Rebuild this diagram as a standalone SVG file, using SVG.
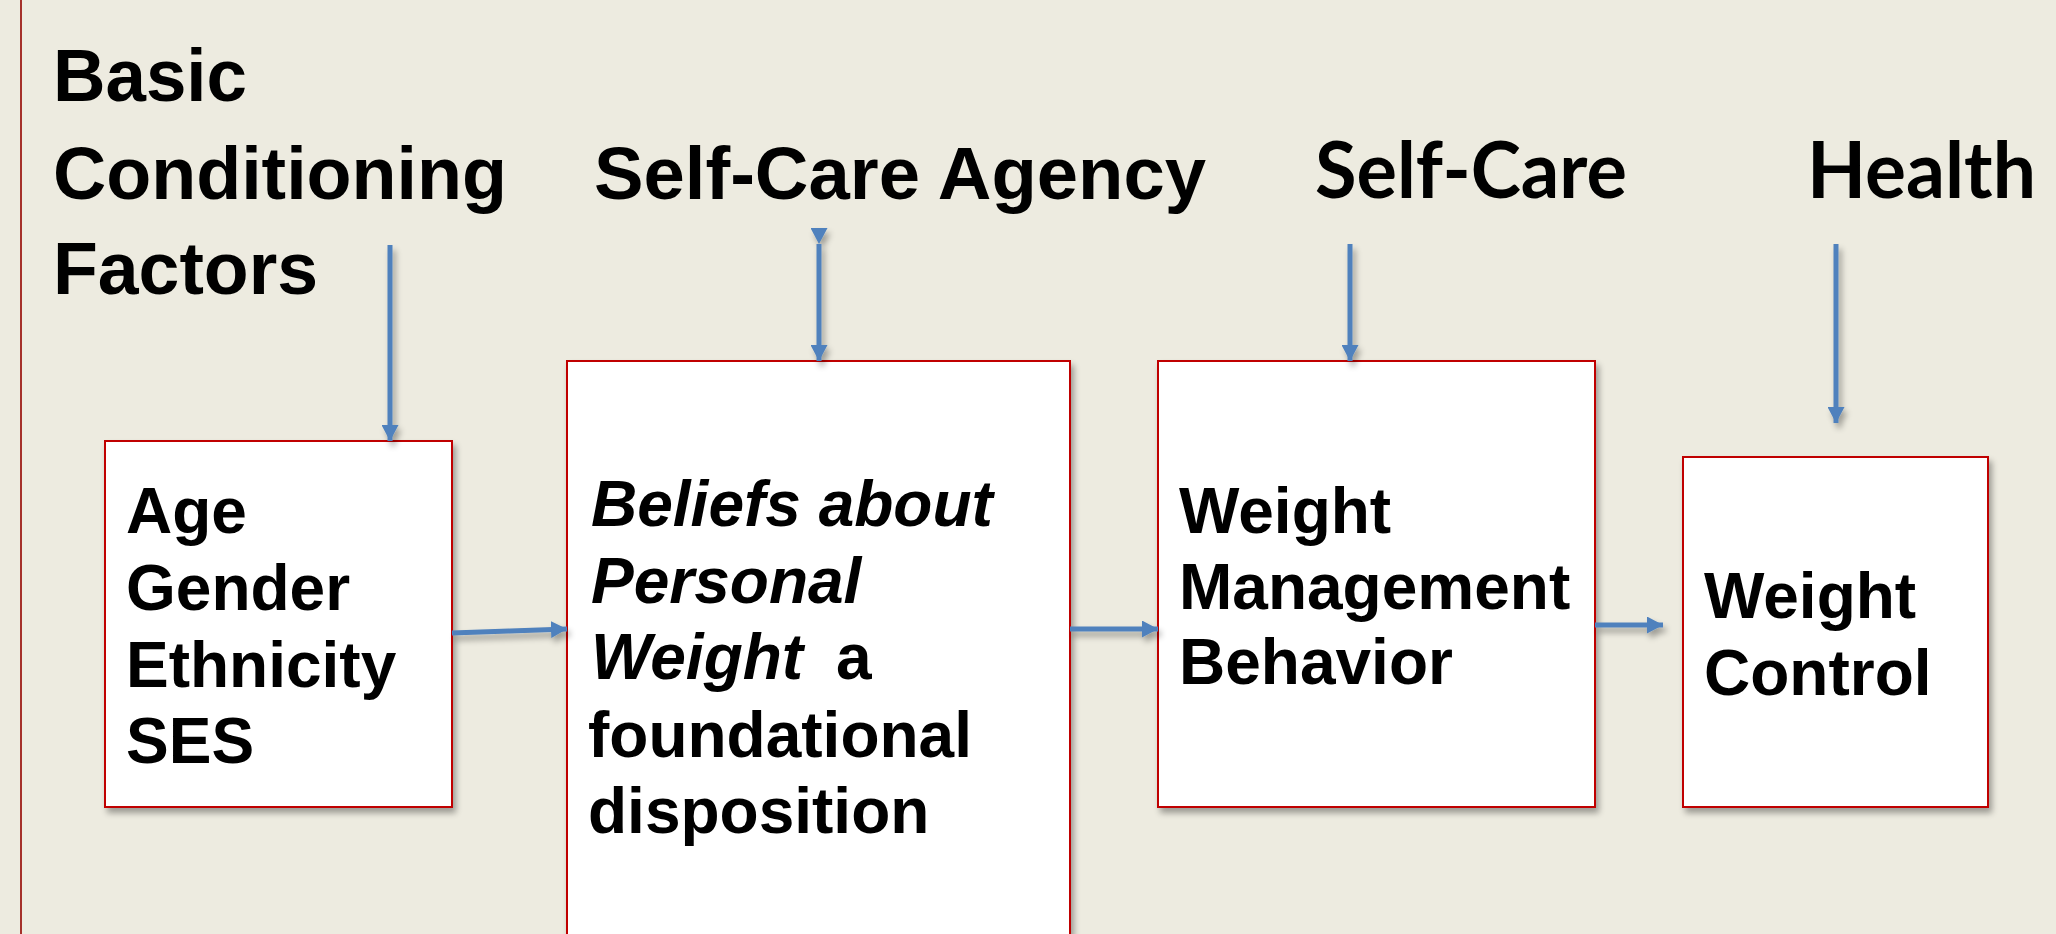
<svg xmlns="http://www.w3.org/2000/svg" width="2056" height="934" viewBox="0 0 2056 934">
  <defs>
    <style>
      .title { font-family: "Liberation Sans", Arial, sans-serif; font-weight: bold; font-size: 75px; fill: #000; }
      .title2 { font-family: Lato, "Open Sans", sans-serif; font-weight: bold; font-size: 78px; fill: #000; }
      .label { font-family: "Liberation Sans", Arial, sans-serif; font-weight: bold; font-size: 64px; fill: #000; }
      .it { font-style: italic; }
      .box { fill: #FFFFFF; stroke: #C00000; stroke-width: 2; }
      .conn { fill: none; stroke: #4F81BD; stroke-width: 5; }
    </style>
    <filter id="shadow" x="-10%" y="-10%" width="130%" height="130%">
      <feGaussianBlur in="SourceAlpha" stdDeviation="3"/>
      <feOffset dx="3" dy="5" result="off"/>
      <feComponentTransfer><feFuncA type="linear" slope="0.35"/></feComponentTransfer>
      <feMerge><feMergeNode/><feMergeNode in="SourceGraphic"/></feMerge>
    </filter>
    <marker id="arrow" markerUnits="userSpaceOnUse" markerWidth="16" markerHeight="17" refX="16" refY="8.5" orient="auto">
      <path d="M0,0 L16,8.5 L0,17 z" fill="#4F81BD"/>
    </marker>
  </defs>

  <!-- background -->
  <rect x="0" y="0" width="2056" height="934" fill="#EDEBE0"/>
  <line x1="21" y1="0" x2="21" y2="934" stroke="#A5312B" stroke-width="2"/>

  <!-- column headings -->
  <g id="heading-basic">
    <text class="title" x="53" y="101" textLength="194" lengthAdjust="spacingAndGlyphs">Basic</text>
    <text class="title" x="53" y="199" textLength="454" lengthAdjust="spacingAndGlyphs">Conditioning</text>
    <text class="title" x="53" y="294" textLength="265" lengthAdjust="spacingAndGlyphs">Factors</text>
  </g>
  <g id="heading-agency">
    <text class="title" x="594" y="199" textLength="612" lengthAdjust="spacingAndGlyphs">Self-Care Agency</text>
  </g>
  <g id="heading-selfcare">
    <text class="title2" x="1315" y="198" textLength="312" lengthAdjust="spacingAndGlyphs">Self-Care</text>
  </g>
  <g id="heading-health">
    <text class="title2" x="1807" y="198" textLength="229" lengthAdjust="spacingAndGlyphs">Health</text>
  </g>

  <!-- nodes -->
  <g id="node-factors" filter="url(#shadow)">
    <rect class="box" x="105" y="441" width="347" height="366"/>
    <text class="label" x="126" y="533">Age</text>
    <text class="label" x="126" y="610">Gender</text>
    <text class="label" x="126" y="687">Ethnicity</text>
    <text class="label" x="126" y="763">SES</text>
  </g>
  <g id="node-beliefs" filter="url(#shadow)">
    <rect class="box" x="567" y="361" width="503" height="590"/>
    <text class="label it" x="591" y="526">Beliefs about</text>
    <text class="label it" x="591" y="603">Personal</text>
    <text class="label" x="591" y="679"><tspan class="it">Weight</tspan><tspan x="836">a</tspan></text>
    <text class="label" x="588" y="757">foundational</text>
    <text class="label" x="588" y="833">disposition</text>
  </g>
  <g id="node-behavior" filter="url(#shadow)">
    <rect class="box" x="1158" y="361" width="437" height="446"/>
    <text class="label" x="1179" y="533">Weight</text>
    <text class="label" x="1179" y="609">Management</text>
    <text class="label" x="1179" y="684">Behavior</text>
  </g>
  <g id="node-control" filter="url(#shadow)">
    <rect class="box" x="1683" y="457" width="305" height="350"/>
    <text class="label" x="1704" y="618">Weight</text>
    <text class="label" x="1704" y="695">Control</text>
  </g>

  <!-- connectors -->
  <g id="connectors" filter="url(#shadow)">
    <line class="conn" x1="390" y1="245" x2="390" y2="441" marker-end="url(#arrow)"/>
    <line class="conn" x1="819" y1="244" x2="819" y2="361" marker-start="url(#arrow)" marker-end="url(#arrow)"/>
    <line class="conn" x1="1350" y1="244" x2="1350" y2="361" marker-end="url(#arrow)"/>
    <line class="conn" x1="1836" y1="244" x2="1836" y2="423" marker-end="url(#arrow)"/>
    <line class="conn" x1="452" y1="633" x2="567" y2="629" marker-end="url(#arrow)"/>
    <line class="conn" x1="1070" y1="629" x2="1158" y2="629" marker-end="url(#arrow)"/>
    <line class="conn" x1="1595" y1="625" x2="1663" y2="625" marker-end="url(#arrow)"/>
  </g>
</svg>
